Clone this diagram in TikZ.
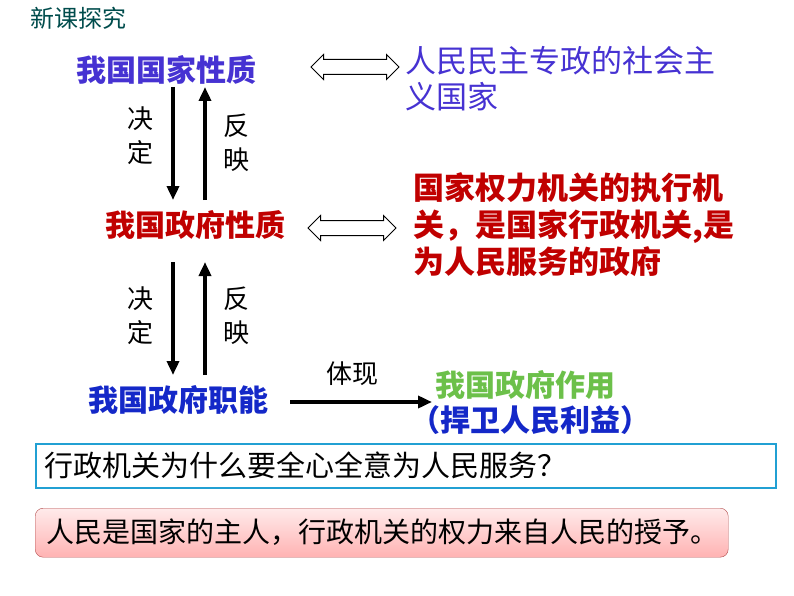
\documentclass[tikz,border=0pt]{standalone}
\usepackage{fontspec}
\setmainfont{Noto Sans CJK SC}
\usetikzlibrary{arrows.meta,shapes.arrows}
\definecolor{tblue}{HTML}{4632D2}
\definecolor{tred}{HTML}{C00000}
\definecolor{tgreen}{HTML}{6CC04A}
\definecolor{tdblue}{HTML}{1428C8}
\tikzset{
  big/.style={font=\fontsize{30}{32}\selectfont\bfseries,inner sep=0pt},
  lab/.style={font=\fontsize{26}{34}\selectfont,inner sep=0pt},
  arr/.style={line width=4.5pt,-{Triangle[length=14pt,width=12pt]}},
  dbl/.style={draw,double arrow,double arrow head extend=5pt,double arrow head indent=0pt,minimum height=88pt,minimum width=24pt,inner ysep=7pt,inner xsep=0pt,line width=1pt}
}
\begin{document}
\begin{tikzpicture}[x=1pt,y=-1pt]
\useasboundingbox (0,0) rectangle (794,596);
\node[font=\fontsize{24}{26}\selectfont,text=teal!60!black,anchor=west,inner sep=0pt] (title) at (30,18) {新课探究};
\node[big,text=tblue] (a) at (166,70) {我国国家性质};
\node[big,text=tred] (b) at (195,225) {我国政府性质};
\node[big,text=tdblue] (c) at (178,400) {我国政府职能};
\node[dbl] (d1) at (355,67) {};
\node[dbl] (d2) at (352,228) {};
\node[font=\fontsize{31}{36}\selectfont,text=tblue,anchor=north west,align=left,inner sep=0pt] (ra) at (405,46) {人民民主专政的社会主\\义国家};
\node[font=\fontsize{31}{37}\selectfont\bfseries,text=tred,anchor=north west,align=left,inner sep=0pt] (rb) at (413,172) {国家权力机关的执行机\\关，是国家行政机关,是\\为人民服务的政府};
\coordinate (p1) at (173,87); \coordinate (p2) at (173,200);
\coordinate (q1) at (205,200); \coordinate (q2) at (205,87);
\draw[arr] (p1) -- (p2); \draw[arr] (q1) -- (q2);
\coordinate (p3) at (173,262); \coordinate (p4) at (173,375);
\coordinate (q3) at (205,375); \coordinate (q4) at (205,262);
\draw[arr] (p3) -- (p4); \draw[arr] (q3) -- (q4);
\node[lab,align=center] (j1) at (140,136) {决\\定};
\node[lab,align=center] (f1) at (236,143) {反\\映};
\node[lab,align=center] (j2) at (140,316) {决\\定};
\node[lab,align=center] (f2) at (236,316) {反\\映};
\node[big,text=tgreen] (e) at (525,385) {我国政府作用};
\node[big,text=tdblue] (e2) at (530,420) {（捍卫人民利益）};
\coordinate (r1) at (290,402); \coordinate (r2) at (432,402);
\draw[arr,line width=3.5pt] (r1) -- (r2);
\node[lab] (tx) at (352,374) {体现};
\node[draw=cyan!70!teal,line width=1.5pt,minimum width=740pt,minimum height=44pt,anchor=north west,inner sep=0pt] (box1) at (35,443) {};
\node[font=\fontsize{29}{30}\selectfont,anchor=west,inner sep=0pt] (t1) at (44,465) {行政机关为什么要全心全意为人民服务？};
\node[draw=red!40!gray,rounded corners=8pt,top color=red!8,bottom color=red!30,minimum width=693pt,minimum height=49pt,anchor=north west,inner sep=0pt] (box2) at (35,508) {};
\node[font=\fontsize{28}{30}\selectfont,anchor=west,inner sep=0pt] (t2) at (46,532) {人民是国家的主人，行政机关的权力来自人民的授予。};
\end{tikzpicture}
\end{document}
